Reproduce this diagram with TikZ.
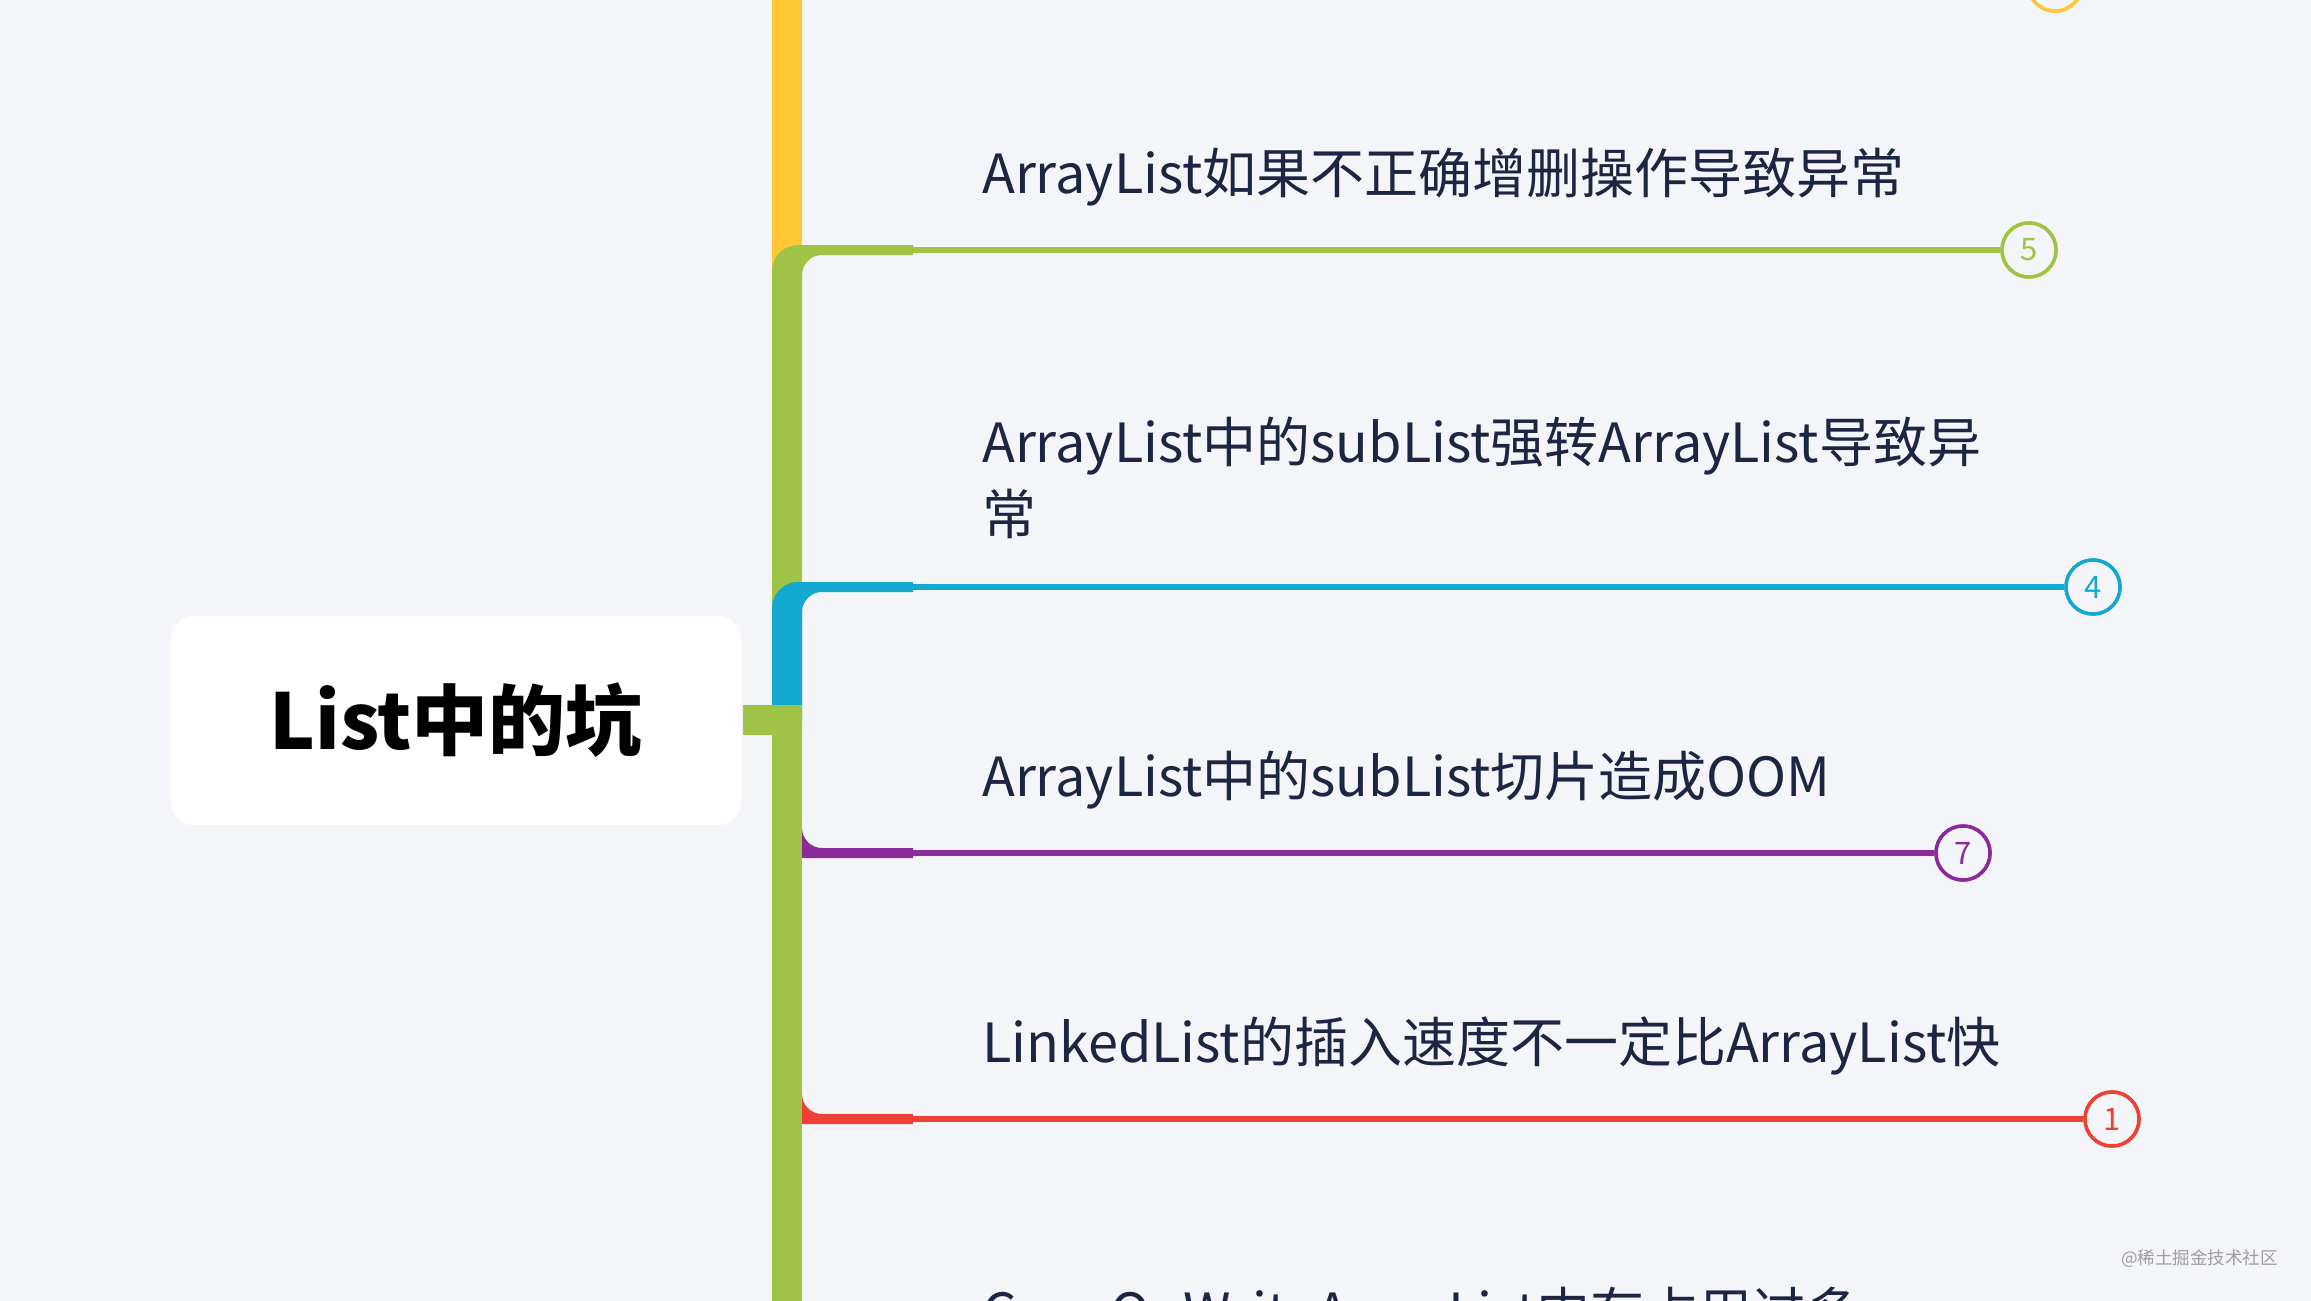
\documentclass[tikz,border=0pt]{standalone}
\usepackage{fontspec,tikz}
\setmainfont{Noto Sans CJK SC}
\definecolor{bgpaper}{HTML}{F4F5F9}
\definecolor{inkdark}{HTML}{1C2541}
\definecolor{byellow}{HTML}{FFC734}
\definecolor{bgreen}{HTML}{9FC445}
\definecolor{bblue}{HTML}{12A8CF}
\definecolor{bpurple}{HTML}{8B2A9A}
\definecolor{bred}{HTML}{EC4134}
\begin{document}
\begin{tikzpicture}[x=1pt,y=-1pt,
  topic/.style={anchor=west,inner sep=0pt,align=left,text=inkdark,font=\fontsize{54}{72}\selectfont},
  badge/.style={circle,draw=#1,text=#1,fill=bgpaper,line width=3.5pt,minimum size=54pt,inner sep=0pt,font=\fontsize{31}{31}\selectfont},
  twig/.style={line width=6pt,#1}]
\path[use as bounding box] (0,0) rectangle (2311,1301);
\fill[bgpaper] (0,0) rectangle (2311,1301);
% root
\node[fill=white,rounded corners=22pt,minimum width=570pt,minimum height=209pt,inner sep=0pt,font=\fontsize{77}{77}\selectfont\bfseries] (root) at (456,720.5) {List中的坑};
% badges
\node[badge=byellow] (cy) at (2055,-16) {};
\node[badge=bgreen] (c5) at (2029,250) {5};
\node[badge=bblue] (c4) at (2093,587) {4};
\node[badge=bpurple] (c7) at (1963,853) {7};
\node[badge=bred] (c1) at (2112,1119) {1};
% elbows of the thick parts
\coordinate (k5) at (910,250);
\coordinate (k4) at (910,587);
\coordinate (k7) at (910,853);
\coordinate (k1) at (910,1119);
% trunk, upper branches
\fill[byellow] (772,-20) rectangle (802,300);
\fill[bgreen] (772,735) -- (772,271) .. controls (772,256.6) and (783.6,245) .. (798,245) -- (913,245) -- (913,255) -- (822,255) .. controls (811,255) and (802,264) .. (802,275) -- (802,735) -- cycle;
\fill[bblue] (772,720) -- (772,608) .. controls (772,593.6) and (783.6,582) .. (798,582) -- (913,582) -- (913,592) -- (822,592) .. controls (811,592) and (802,601) .. (802,612) -- (802,720) -- cycle;
% lower branches
\fill[bpurple] (802,828) .. controls (802,839) and (811,848) .. (822,848) -- (913,848) -- (913,858) -- (790,858) -- (790,828) -- cycle;
\fill[bred] (802,1094) .. controls (802,1105) and (811,1114) .. (822,1114) -- (913,1114) -- (913,1124) -- (790,1124) -- (790,1094) -- cycle;
\fill[bgreen] (743,705) rectangle (802,735);
\fill[bgreen] (772,705) rectangle (802,1310);
% thin parts
\draw[twig=bgreen] (k5) -- (c5);
\draw[twig=bblue] (k4) -- (c4);
\draw[twig=bpurple] (k7) -- (c7);
\draw[twig=bred] (k1) -- (c1);
\node[badge=byellow] at (cy) {};
\node[badge=bgreen] at (c5) {5};
\node[badge=bblue] at (c4) {4};
\node[badge=bpurple] at (c7) {7};
\node[badge=bred] at (c1) {1};
% topics
\node[topic] (t5) at (982,177) {ArrayList如果不正确增删操作导致异常};
\node[topic] (t4) at (982,478) {ArrayList中的subList强转ArrayList导致异\\常};
\node[topic] (t7) at (982,780) {ArrayList中的subList切片造成OOM};
\node[topic] (t1) at (982,1046) {LinkedList的插入速度不一定比ArrayList快};
\node[topic] (t0) at (982,1316) {CopyOnWriteArrayList内存占用过多};
\node[anchor=east,inner sep=0pt,text=black!38,font=\fontsize{17.5}{17.5}\selectfont] (mark) at (2278,1259) {@稀土掘金技术社区};
\end{tikzpicture}
\end{document}
